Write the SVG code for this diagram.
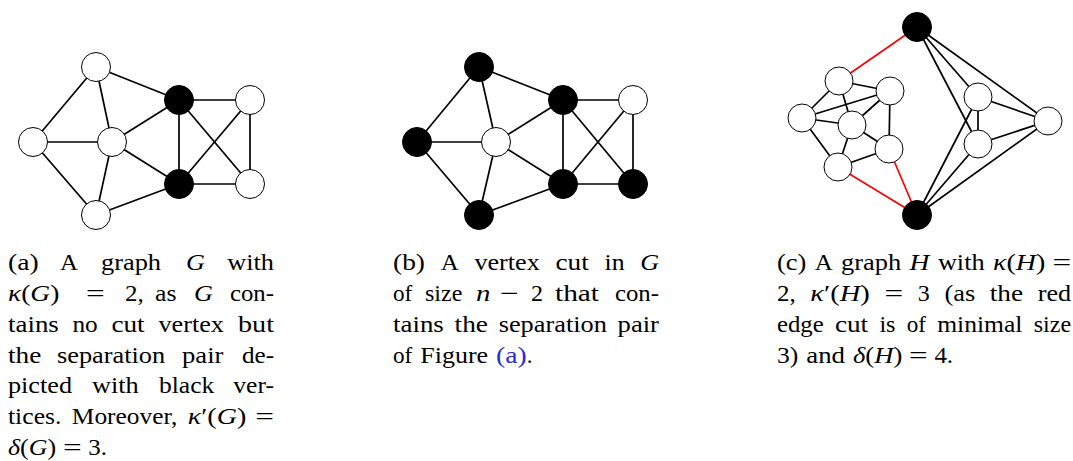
<svg xmlns="http://www.w3.org/2000/svg" width="1073" height="461" viewBox="0 0 1073 461">
<style>
.e{stroke:#000;stroke-width:1.7;fill:none}
.r{stroke:#ff0000;stroke-width:1.7;fill:none}
.w{fill:#fff;stroke:#000;stroke-width:1}
.b{fill:#000;stroke:#000;stroke-width:1}
text{font-family:"Liberation Serif","DejaVu Serif",serif;font-size:23px;fill:#000}
.i{font-style:italic}
.lnk{fill:#2a2ad6}
</style>
<rect width="1073" height="461" fill="#fff"/>
<g id="connectors">
<line class="e" x1="96" y1="67" x2="33" y2="142"/>
<line class="e" x1="96" y1="67" x2="112" y2="142"/>
<line class="e" x1="96" y1="67" x2="179" y2="100"/>
<line class="e" x1="33" y1="142" x2="112" y2="142"/>
<line class="e" x1="33" y1="142" x2="96" y2="215"/>
<line class="e" x1="112" y1="142" x2="96" y2="215"/>
<line class="e" x1="112" y1="142" x2="179" y2="100"/>
<line class="e" x1="112" y1="142" x2="179" y2="184"/>
<line class="e" x1="96" y1="215" x2="179" y2="184"/>
<line class="e" x1="179" y1="100" x2="250" y2="100"/>
<line class="e" x1="179" y1="100" x2="179" y2="184"/>
<line class="e" x1="179" y1="100" x2="250" y2="184"/>
<line class="e" x1="179" y1="184" x2="250" y2="100"/>
<line class="e" x1="179" y1="184" x2="250" y2="184"/>
<line class="e" x1="250" y1="100" x2="250" y2="184"/>
<line class="e" x1="479" y1="67" x2="417" y2="142"/>
<line class="e" x1="479" y1="67" x2="496" y2="142"/>
<line class="e" x1="479" y1="67" x2="563" y2="100"/>
<line class="e" x1="417" y1="142" x2="496" y2="142"/>
<line class="e" x1="417" y1="142" x2="479" y2="215"/>
<line class="e" x1="496" y1="142" x2="479" y2="215"/>
<line class="e" x1="496" y1="142" x2="563" y2="100"/>
<line class="e" x1="496" y1="142" x2="563" y2="184"/>
<line class="e" x1="479" y1="215" x2="563" y2="184"/>
<line class="e" x1="563" y1="100" x2="633" y2="100"/>
<line class="e" x1="563" y1="100" x2="563" y2="184"/>
<line class="e" x1="563" y1="100" x2="633" y2="184"/>
<line class="e" x1="563" y1="184" x2="633" y2="100"/>
<line class="e" x1="563" y1="184" x2="633" y2="184"/>
<line class="e" x1="633" y1="100" x2="633" y2="184"/>
<line class="r" x1="917" y1="27" x2="839" y2="81"/>
<line class="r" x1="838" y1="167" x2="917" y2="215"/>
<line class="r" x1="889" y1="149" x2="917" y2="215"/>
<line class="e" x1="839" y1="81" x2="890" y2="91"/>
<line class="e" x1="839" y1="81" x2="802" y2="118"/>
<line class="e" x1="839" y1="81" x2="852" y2="125"/>
<line class="e" x1="802" y1="118" x2="890" y2="91"/>
<line class="e" x1="802" y1="118" x2="852" y2="125"/>
<line class="e" x1="802" y1="118" x2="838" y2="167"/>
<line class="e" x1="890" y1="91" x2="852" y2="125"/>
<line class="e" x1="890" y1="91" x2="889" y2="149"/>
<line class="e" x1="852" y1="125" x2="889" y2="149"/>
<line class="e" x1="852" y1="125" x2="838" y2="167"/>
<line class="e" x1="838" y1="167" x2="889" y2="149"/>
<line class="e" x1="917" y1="27" x2="978" y2="97"/>
<line class="e" x1="917" y1="27" x2="978" y2="144"/>
<line class="e" x1="917" y1="27" x2="1048" y2="121"/>
<line class="e" x1="917" y1="215" x2="978" y2="97"/>
<line class="e" x1="917" y1="215" x2="978" y2="144"/>
<line class="e" x1="917" y1="215" x2="1048" y2="121"/>
<line class="e" x1="978" y1="97" x2="978" y2="144"/>
<line class="e" x1="978" y1="97" x2="1048" y2="121"/>
<line class="e" x1="978" y1="144" x2="1048" y2="121"/>
</g>
<g id="a-top"><circle class="w" cx="96" cy="67" r="14.5"/></g>
<g id="a-left"><circle class="w" cx="33" cy="142" r="14.5"/></g>
<g id="a-center"><circle class="w" cx="112" cy="142" r="14.5"/></g>
<g id="a-bottom"><circle class="w" cx="96" cy="215" r="14.5"/></g>
<g id="a-sep1"><circle class="b" cx="179" cy="100" r="14.5"/></g>
<g id="a-sep2"><circle class="b" cx="179" cy="184" r="14.5"/></g>
<g id="a-rtop"><circle class="w" cx="250" cy="100" r="14.5"/></g>
<g id="a-rbot"><circle class="w" cx="250" cy="184" r="14.5"/></g>
<g id="b-top"><circle class="b" cx="479" cy="67" r="14.5"/></g>
<g id="b-left"><circle class="b" cx="417" cy="142" r="14.5"/></g>
<g id="b-center"><circle class="w" cx="496" cy="142" r="14.5"/></g>
<g id="b-bottom"><circle class="b" cx="479" cy="215" r="14.5"/></g>
<g id="b-sep1"><circle class="b" cx="563" cy="100" r="14.5"/></g>
<g id="b-sep2"><circle class="b" cx="563" cy="184" r="14.5"/></g>
<g id="b-rtop"><circle class="w" cx="633" cy="100" r="14.5"/></g>
<g id="b-rbot"><circle class="b" cx="633" cy="184" r="14.5"/></g>
<g id="c-top"><circle class="b" cx="917" cy="27" r="14.5"/></g>
<g id="c-bottom"><circle class="b" cx="917" cy="215" r="14.5"/></g>
<g id="c-n1"><circle class="w" cx="839" cy="81" r="14"/></g>
<g id="c-n2"><circle class="w" cx="890" cy="91" r="14"/></g>
<g id="c-n3"><circle class="w" cx="802" cy="118" r="14"/></g>
<g id="c-n4"><circle class="w" cx="852" cy="125" r="14"/></g>
<g id="c-n5"><circle class="w" cx="889" cy="149" r="14"/></g>
<g id="c-n6"><circle class="w" cx="838" cy="167" r="14"/></g>
<g id="c-r1"><circle class="w" cx="978" cy="97" r="14"/></g>
<g id="c-r2"><circle class="w" cx="978" cy="144" r="14"/></g>
<g id="c-r3"><circle class="w" cx="1048" cy="121" r="14"/></g>
<g id="caption-a">
<text x="8" y="270" textLength="30.7" lengthAdjust="spacingAndGlyphs">(a)</text>
<text x="60" y="270" textLength="18" lengthAdjust="spacingAndGlyphs">A</text>
<text x="101" y="270" textLength="60" lengthAdjust="spacingAndGlyphs">graph</text>
<text class="i" x="186" y="270" textLength="18.9" lengthAdjust="spacingAndGlyphs">G</text>
<text x="227.3" y="270" textLength="46.7" lengthAdjust="spacingAndGlyphs">with</text>
<text x="8" y="301" textLength="51.4" lengthAdjust="spacingAndGlyphs"><tspan class="i">κ</tspan>(<tspan class="i">G</tspan>)</text>
<text x="86" y="301" textLength="18.7" lengthAdjust="spacingAndGlyphs">=</text>
<text x="125" y="301" textLength="18.7" lengthAdjust="spacingAndGlyphs">2,</text>
<text x="155" y="301" textLength="21.5" lengthAdjust="spacingAndGlyphs">as</text>
<text class="i" x="194" y="301" textLength="18.9" lengthAdjust="spacingAndGlyphs">G</text>
<text x="230" y="301" textLength="44" lengthAdjust="spacingAndGlyphs">con-</text>
<text x="8" y="332" textLength="50.8" lengthAdjust="spacingAndGlyphs">tains</text>
<text x="72.4" y="332" textLength="25.3" lengthAdjust="spacingAndGlyphs">no</text>
<text x="111.4" y="332" textLength="33.3" lengthAdjust="spacingAndGlyphs">cut</text>
<text x="158.5" y="332" textLength="65.4" lengthAdjust="spacingAndGlyphs">vertex</text>
<text x="238" y="332" textLength="36" lengthAdjust="spacingAndGlyphs">but</text>
<text x="8" y="362.5" textLength="33.3" lengthAdjust="spacingAndGlyphs">the</text>
<text x="57" y="362.5" textLength="108.2" lengthAdjust="spacingAndGlyphs">separation</text>
<text x="182" y="362.5" textLength="41.4" lengthAdjust="spacingAndGlyphs">pair</text>
<text x="242" y="362.5" textLength="32" lengthAdjust="spacingAndGlyphs">de-</text>
<text x="8" y="393" textLength="64" lengthAdjust="spacingAndGlyphs">picted</text>
<text x="92" y="393" textLength="46.7" lengthAdjust="spacingAndGlyphs">with</text>
<text x="159" y="393" textLength="55.3" lengthAdjust="spacingAndGlyphs">black</text>
<text x="233.3" y="393" textLength="40.7" lengthAdjust="spacingAndGlyphs">ver-</text>
<text x="8" y="424" textLength="53.4" lengthAdjust="spacingAndGlyphs">tices.</text>
<text x="71.8" y="424" textLength="105.5" lengthAdjust="spacingAndGlyphs">Moreover,</text>
<text x="187.7" y="424" textLength="58.6" lengthAdjust="spacingAndGlyphs"><tspan class="i">κ</tspan>′(<tspan class="i">G</tspan>)</text>
<text x="255.3" y="424" textLength="18.7" lengthAdjust="spacingAndGlyphs">=</text>
<text x="8" y="455" textLength="48.2" lengthAdjust="spacingAndGlyphs"><tspan class="i">δ</tspan>(<tspan class="i">G</tspan>)</text>
<text x="62.9" y="455" textLength="18.7" lengthAdjust="spacingAndGlyphs">=</text>
<text x="88.3" y="455" textLength="18.7" lengthAdjust="spacingAndGlyphs">3.</text>
</g>
<g id="caption-b">
<text x="393" y="270" textLength="32" lengthAdjust="spacingAndGlyphs">(b)</text>
<text x="440.7" y="270" textLength="18" lengthAdjust="spacingAndGlyphs">A</text>
<text x="474.4" y="270" textLength="65.4" lengthAdjust="spacingAndGlyphs">vertex</text>
<text x="555.5" y="270" textLength="33.3" lengthAdjust="spacingAndGlyphs">cut</text>
<text x="604.5" y="270" textLength="20" lengthAdjust="spacingAndGlyphs">in</text>
<text class="i" x="640.2" y="270" textLength="18.9" lengthAdjust="spacingAndGlyphs">G</text>
<text x="393" y="301" textLength="19.3" lengthAdjust="spacingAndGlyphs">of</text>
<text x="425" y="301" textLength="37.4" lengthAdjust="spacingAndGlyphs">size</text>
<text class="i" x="476" y="301" textLength="14.4" lengthAdjust="spacingAndGlyphs">n</text>
<text x="500" y="301" textLength="18.7" lengthAdjust="spacingAndGlyphs">−</text>
<text x="531" y="301" textLength="12" lengthAdjust="spacingAndGlyphs">2</text>
<text x="555" y="301" textLength="44" lengthAdjust="spacingAndGlyphs">that</text>
<text x="615" y="301" textLength="44" lengthAdjust="spacingAndGlyphs">con-</text>
<text x="393" y="332" textLength="50.8" lengthAdjust="spacingAndGlyphs">tains</text>
<text x="454.6" y="332" textLength="33.3" lengthAdjust="spacingAndGlyphs">the</text>
<text x="498.7" y="332" textLength="108.2" lengthAdjust="spacingAndGlyphs">separation</text>
<text x="617.6" y="332" textLength="41.4" lengthAdjust="spacingAndGlyphs">pair</text>
<text x="393" y="362.5" textLength="19.3" lengthAdjust="spacingAndGlyphs">of</text>
<text x="420.3" y="362.5" textLength="67.8" lengthAdjust="spacingAndGlyphs">Figure</text>
<text class="lnk" x="496.1" y="362.5" textLength="30.7" lengthAdjust="spacingAndGlyphs">(a)</text>
<text x="526.8" y="362.5">.</text>
</g>
<g id="caption-c">
<text x="777" y="270" textLength="29.3" lengthAdjust="spacingAndGlyphs">(c)</text>
<text x="814.7" y="270" textLength="18" lengthAdjust="spacingAndGlyphs">A</text>
<text x="841.1" y="270" textLength="60.1" lengthAdjust="spacingAndGlyphs">graph</text>
<text class="i" x="909.6" y="270" textLength="19.9" lengthAdjust="spacingAndGlyphs">H</text>
<text x="937.9" y="270" textLength="46.7" lengthAdjust="spacingAndGlyphs">with</text>
<text x="993" y="270" textLength="52.4" lengthAdjust="spacingAndGlyphs"><tspan class="i">κ</tspan>(<tspan class="i">H</tspan>)</text>
<text x="1052.5" y="270" textLength="18.7" lengthAdjust="spacingAndGlyphs">=</text>
<text x="777" y="301" textLength="18.7" lengthAdjust="spacingAndGlyphs">2,</text>
<text x="810.3" y="301" textLength="59.6" lengthAdjust="spacingAndGlyphs"><tspan class="i">κ</tspan>′(<tspan class="i">H</tspan>)</text>
<text x="884.5" y="301" textLength="18.7" lengthAdjust="spacingAndGlyphs">=</text>
<text x="917.8" y="301" textLength="12" lengthAdjust="spacingAndGlyphs">3</text>
<text x="944.4" y="301" textLength="30.8" lengthAdjust="spacingAndGlyphs">(as</text>
<text x="989.8" y="301" textLength="33.3" lengthAdjust="spacingAndGlyphs">the</text>
<text x="1037.7" y="301" textLength="33.4" lengthAdjust="spacingAndGlyphs">red</text>
<text x="777" y="332" textLength="46.7" lengthAdjust="spacingAndGlyphs">edge</text>
<text x="834.9" y="332" textLength="33.3" lengthAdjust="spacingAndGlyphs">cut</text>
<text x="879.4" y="332" textLength="16.1" lengthAdjust="spacingAndGlyphs">is</text>
<text x="906.7" y="332" textLength="19.3" lengthAdjust="spacingAndGlyphs">of</text>
<text x="937.2" y="332" textLength="85.3" lengthAdjust="spacingAndGlyphs">minimal</text>
<text x="1033.7" y="332" textLength="37.4" lengthAdjust="spacingAndGlyphs">size</text>
<text x="777" y="362.5" textLength="21.3" lengthAdjust="spacingAndGlyphs">3)</text>
<text x="806.3" y="362.5" textLength="38.7" lengthAdjust="spacingAndGlyphs">and</text>
<text x="853" y="362.5" textLength="49.3" lengthAdjust="spacingAndGlyphs"><tspan class="i">δ</tspan>(<tspan class="i">H</tspan>)</text>
<text x="909" y="362.5" textLength="18.7" lengthAdjust="spacingAndGlyphs">=</text>
<text x="934.4" y="362.5" textLength="18.7" lengthAdjust="spacingAndGlyphs">4.</text>
</g>
</svg>
